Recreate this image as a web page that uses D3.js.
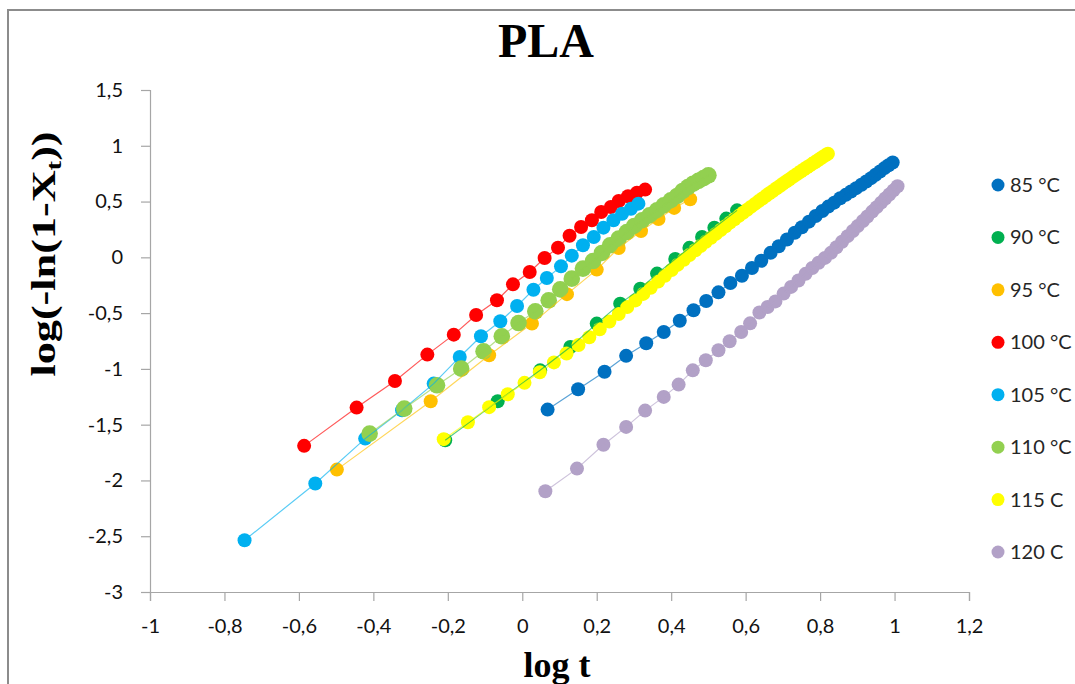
<!DOCTYPE html>
<html>
<head>
<meta charset="utf-8">
<script src="https://cdn.jsdelivr.net/npm/d3@7"></script>
<style>
  html, body { margin: 0; padding: 0; background: #fff; }
  svg { display: block; }
</style>
</head>
<body>
<svg id="chart" width="1075" height="684"></svg>
<script>
// ---------------- DATA ----------------
const chartTitle = "PLA";
const xTickValues = [-1, -0.8, -0.6, -0.4, -0.2, 0, 0.2, 0.4, 0.6, 0.8, 1, 1.2];
const xTickLabels = ["-1", "-0,8", "-0,6", "-0,4", "-0,2", "0", "0,2", "0,4", "0,6", "0,8", "1", "1,2"];
const yTickValues = [-3, -2.5, -2, -1.5, -1, -0.5, 0, 0.5, 1, 1.5];
const yTickLabels = ["-3", "-2,5", "-2", "-1,5", "-1", "-0,5", "0", "0,5", "1", "1,5"];
const seriesNames = ["85 °C", "90 °C", "95 °C", "100 °C", "105 °C", "110 °C", "115 C", "120 C"];
const seriesColors = ["#0070C0", "#00B050", "#FFC000", "#FF0000", "#00B0F0", "#92D050", "#FFFF00", "#B2A1C7"];

// 85 °C
const x85 = [0.068, 0.150, 0.221, 0.279, 0.333, 0.380, 0.423, 0.460, 0.494, 0.527, 0.559, 0.590, 0.617,
  0.642, 0.667, 0.689, 0.711, 0.732, 0.751, 0.770, 0.788, 0.806, 0.822, 0.838, 0.854, 0.869, 0.883,
  0.897, 0.911, 0.924, 0.937, 0.949, 0.961, 0.973, 0.984, 0.995];
const y85 = [-1.365, -1.183, -1.025, -0.883, -0.770, -0.669, -0.568, -0.475, -0.392, -0.314, -0.230, -0.165, -0.095,
  -0.030, 0.040, 0.100, 0.160, 0.220, 0.270, 0.320, 0.370, 0.415, 0.455, 0.490, 0.530, 0.560, 0.590,
  0.620, 0.650, 0.680, 0.710, 0.740, 0.770, 0.800, 0.825, 0.850];
// 90 °C
const x90 = [-0.207, -0.066, 0.048, 0.129, 0.200, 0.263, 0.317, 0.362, 0.411, 0.449, 0.483, 0.516, 0.548, 0.577];
const y90 = [-1.640, -1.290, -1.013, -0.804, -0.594, -0.415, -0.281, -0.146, -0.015, 0.085, 0.182, 0.266, 0.347, 0.421];
// 95 °C
const x95 = [-0.498, -0.246, -0.089, 0.026, 0.120, 0.200, 0.259, 0.319, 0.366, 0.408, 0.451];
const y95 = [-1.903, -1.290, -0.878, -0.594, -0.330, -0.110, 0.083, 0.235, 0.344, 0.443, 0.520];
// 100 °C
const x100 = [-0.586, -0.445, -0.342, -0.255, -0.184, -0.124, -0.068, -0.025, 0.020, 0.060, 0.096, 0.127,
  0.158, 0.187, 0.212, 0.238, 0.259, 0.284, 0.308, 0.330];
const y100 = [-1.690, -1.347, -1.108, -0.872, -0.693, -0.517, -0.385, -0.242, -0.131, -0.006, 0.087, 0.194,
  0.272, 0.332, 0.406, 0.451, 0.505, 0.547, 0.580, 0.607];
// 105 °C
const x105 = [-0.746, -0.556, -0.422, -0.323, -0.238, -0.168, -0.111, -0.059, -0.014, 0.030, 0.066, 0.104,
  0.133, 0.163, 0.192, 0.218, 0.245, 0.268, 0.292, 0.312];
const y105 = [-2.536, -2.028, -1.625, -1.371, -1.132, -0.893, -0.708, -0.573, -0.436, -0.290, -0.185, -0.081,
  0.015, 0.108, 0.182, 0.266, 0.332, 0.391, 0.436, 0.481];
// 110 °C
const x110 = [-0.410, -0.317, -0.229, -0.164, -0.104, -0.055, -0.010, 0.035, 0.071, 0.102, 0.133, 0.163,
  0.190, 0.214, 0.236, 0.259, 0.281, 0.301, 0.322, 0.342, 0.362, 0.380, 0.399, 0.416, 0.431, 0.445,
  0.459, 0.473, 0.487, 0.500];
const y110 = [-1.580, -1.356, -1.147, -0.998, -0.842, -0.708, -0.589, -0.484, -0.385, -0.287, -0.191, -0.101,
  -0.033, 0.039, 0.108, 0.168, 0.227, 0.281, 0.332, 0.376, 0.421, 0.466, 0.511, 0.550, 0.595, 0.630,
  0.660, 0.685, 0.710, 0.735];
// 115 C
const x115 = [-0.211, -0.146, -0.089, -0.039, 0.006, 0.047, 0.085, 0.119, 0.151, 0.180, 0.208, 0.234,
  0.259, 0.282, 0.304, 0.325, 0.345, 0.365, 0.383, 0.401, 0.417, 0.434, 0.449, 0.465, 0.479, 0.493,
  0.507, 0.520, 0.533, 0.546, 0.558, 0.570, 0.582, 0.593, 0.604, 0.614, 0.625, 0.635, 0.645, 0.655,
  0.664, 0.673, 0.683, 0.692, 0.700, 0.709, 0.717, 0.726, 0.734, 0.742, 0.749, 0.757, 0.765, 0.772,
  0.779, 0.786, 0.793, 0.800, 0.807, 0.814, 0.821];
const y115 = [-1.630, -1.478, -1.343, -1.228, -1.125, -1.030, -0.942, -0.862, -0.786, -0.716, -0.645, -0.576,
  -0.508, -0.446, -0.386, -0.328, -0.272, -0.216, -0.165, -0.114, -0.068, -0.022, 0.020, 0.063, 0.101, 0.139,
  0.176, 0.210, 0.245, 0.279, 0.311, 0.342, 0.372, 0.400, 0.427, 0.452, 0.479, 0.504, 0.528, 0.552,
  0.574, 0.595, 0.619, 0.640, 0.659, 0.680, 0.698, 0.719, 0.737, 0.755, 0.771, 0.789, 0.807, 0.822,
  0.838, 0.853, 0.868, 0.884, 0.899, 0.914, 0.929];
// 120 C
const x120 = [0.062, 0.147, 0.218, 0.279, 0.330, 0.380, 0.420, 0.458, 0.493, 0.527, 0.557, 0.588, 0.612,
  0.637, 0.659, 0.680, 0.702, 0.722, 0.742, 0.761, 0.779, 0.796, 0.813, 0.829, 0.844, 0.859, 0.874,
  0.888, 0.901, 0.915, 0.927, 0.940, 0.952, 0.964, 0.975, 0.986, 0.997, 1.008];
const y120 = [-2.097, -1.894, -1.680, -1.520, -1.374, -1.251, -1.141, -1.013, -0.923, -0.833, -0.752, -0.669, -0.592,
  -0.495, -0.445, -0.395, -0.325, -0.265, -0.208, -0.148, -0.095, -0.048, -0.005, 0.040, 0.090, 0.140, 0.190,
  0.236, 0.280, 0.326, 0.366, 0.410, 0.450, 0.490, 0.527, 0.563, 0.600, 0.637];

const seriesX = [x85, x90, x95, x100, x105, x110, x115, x120];
const seriesY = [y85, y90, y95, y100, y105, y110, y115, y120];

// ---------------- DRAW ----------------
const svg = d3.select("#chart");
const W = 1075, H = 684;
const plot = { left: 150, right: 969, top: 90, bottom: 592 };

svg.append("rect").attr("x", 0).attr("y", 0).attr("width", W).attr("height", H).attr("fill", "#fff");
// chart frame
svg.append("rect").attr("x", 8).attr("y", 10).attr("width", W + 20).attr("height", H + 20)
  .attr("fill", "none").attr("stroke", "#8c8c8c").attr("stroke-width", 2);

const x = d3.scaleLinear().domain([-1, 1.2]).range([plot.left, plot.right]);
const y = d3.scaleLinear().domain([-3, 1.5]).range([plot.bottom, plot.top]);

const axisColor = "#a6a6a6";
const tickFont = "Lato, 'Open Sans', sans-serif";

const gx = svg.append("g").attr("transform", `translate(0,${plot.bottom})`)
  .call(d3.axisBottom(x).tickValues(xTickValues).tickSize(9).tickPadding(18)
    .tickFormat((d, i) => xTickLabels[i]));
const gy = svg.append("g").attr("transform", `translate(${plot.left},0)`)
  .call(d3.axisLeft(y).tickValues(yTickValues).tickSize(9).tickPadding(18)
    .tickFormat((d, i) => yTickLabels[i]));
[gx, gy].forEach(g => {
  g.select(".domain").attr("stroke", axisColor).attr("stroke-width", 1.2);
  g.selectAll(".tick line").attr("stroke", axisColor).attr("stroke-width", 1.2);
  g.selectAll(".tick text").attr("fill", "#111").style("font-family", tickFont).style("font-size", "20px");
});

// markers
const radii = [7, 7, 7, 7, 7, 8.3, 7, 7];
const markerLayer = svg.append("g");
const lineLayer = svg.append("g");
seriesX.forEach((xs, s) => {
  const pts = xs.map((v, i) => ({ x: v, y: seriesY[s][i] }));
  markerLayer.append("g").selectAll("circle").data(pts).join("circle")
    .attr("cx", d => x(d.x)).attr("cy", d => y(d.y)).attr("r", radii[s])
    .attr("fill", seriesColors[s]);
  lineLayer.append("path").datum(pts)
    .attr("d", d3.line().x(d => x(d.x)).y(d => y(d.y)))
    .attr("fill", "none").attr("stroke", seriesColors[s]).attr("stroke-width", 1.2)
    .attr("stroke-opacity", 0.65);
});

// legend
const legend = svg.append("g");
const legendY = d3.scaleLinear().domain([0, seriesNames.length - 1]).range([185, 552]);
seriesNames.forEach((name, i) => {
  legend.append("circle").attr("cx", 998).attr("cy", legendY(i)).attr("r", 6.5).attr("fill", seriesColors[i]);
  legend.append("text").attr("x", 1010).attr("y", legendY(i)).attr("dy", "0.35em")
    .style("font-family", tickFont).style("font-size", "20px").attr("fill", "#262626").text(name);
});

// title
svg.append("text").attr("x", 546).attr("y", 57).attr("text-anchor", "middle")
  .style("font-family", "'Liberation Serif', 'Times New Roman', serif").style("font-weight", "bold")
  .style("font-size", "48px").text(chartTitle);

// y-axis title (glyphs elongated along the text direction as in the reference)
const yt = svg.append("text").attr("transform", "translate(55,254) rotate(-90) scale(1.3,1)").attr("text-anchor", "middle")
  .style("font-family", "'Liberation Serif', 'Times New Roman', serif").style("font-weight", "bold")
  .style("font-size", "34px");
yt.append("tspan").text("log(-ln(1-X");
yt.append("tspan").attr("dy", "0.25em").style("font-size", "22px").text("t");
yt.append("tspan").attr("dy", "-0.16em").text("))");

// x-axis title
svg.append("text").attr("x", 557).attr("y", 677).attr("text-anchor", "middle")
  .style("font-family", "'Liberation Serif', 'Times New Roman', serif").style("font-weight", "bold")
  .style("font-size", "36px").text("log t");
</script>
</body>
</html>
